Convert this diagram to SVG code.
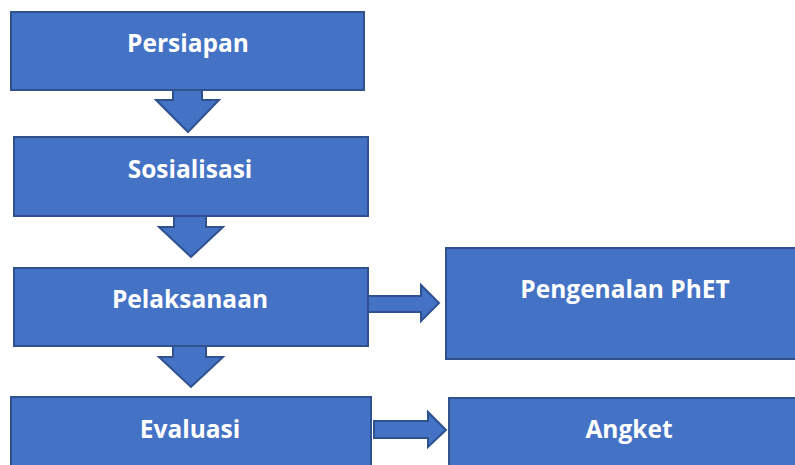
<svg xmlns="http://www.w3.org/2000/svg" width="795" height="465" viewBox="0 0 795 465">
<style>
.box{fill:#4472C4;stroke:#2F528F;stroke-width:2}
.arr{fill:#4472C4;stroke:#2F528F;stroke-width:2;stroke-linejoin:miter}
.t{fill:#FFFFFF;font-family:"Open Sans","Liberation Sans",sans-serif;font-weight:bold;font-size:24.5px;text-anchor:middle}
</style>
<rect width="795" height="465" fill="#FFFFFF"/>
<g id="persiapan"><rect class="box" x="11" y="12" width="353" height="78"/><text class="t" x="188" y="52">Persiapan</text></g>
<g id="sosialisasi"><rect class="box" x="14" y="137" width="354" height="79"/><text class="t" x="190" y="178">Sosialisasi</text></g>
<g id="pelaksanaan"><rect class="box" x="14" y="268" width="354" height="78"/><text class="t" x="190" y="308">Pelaksanaan</text></g>
<g id="evaluasi"><rect class="box" x="11" y="397" width="360" height="80"/><text class="t" x="190" y="438">Evaluasi</text></g>
<g id="pengenalan"><rect class="box" x="446" y="248" width="360" height="111"/><text class="t" x="625" y="298">Pengenalan PhET</text></g>
<g id="angket"><rect class="box" x="449" y="398" width="360" height="80"/><text class="t" x="629" y="438">Angket</text></g>
<g id="connectors">
<polygon class="arr" points="173,90 202,90 202,100 219,100 188,132 156,100 173,100"/>
<polygon class="arr" points="174,216 206,216 206,227 223,227 191,257 159,227 174,227"/>
<polygon class="arr" points="173,346 206,346 206,357 223,357 191,387 159,357 173,357"/>
<polygon class="arr" points="368,296 421,296 421,285 439,303 421,321 421,312 368,312"/>
<polygon class="arr" points="374,421 428,421 428,412 446,430 428,447 428,438 374,438"/>
</g>
</svg>
